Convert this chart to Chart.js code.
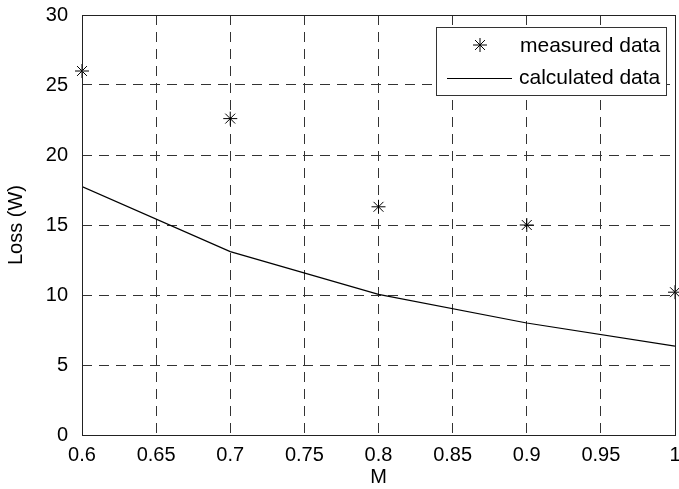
<!DOCTYPE html>
<html>
<head>
<meta charset="utf-8">
<script src="https://cdn.jsdelivr.net/npm/chart.js@4"></script>
<style>
  html, body { margin: 0; padding: 0; background: #fff; }
  #wrap { width: 679px; height: 489px; }
</style>
</head>
<body>
<div id="wrap"><canvas id="loss"></canvas></div>
<script>
// loss versus modulation index
const mValues = [0.6, 0.7, 0.8, 0.9, 1.0];
const measuredLoss = [26.0, 22.6, 16.3, 15.0, 10.2];
const calculatedLoss = [17.75, 13.1, 10.05, 8.0, 6.35];
const legendLabels = ['measured data', 'calculated data'];

const FONT = '"Liberation Sans", Arial, Helvetica, sans-serif';
const fontSize = 20;
const legendFontSize = 21;
const gridDash = [10, 7];

const toPoints = ys => mValues.map((x, i) => ({ x: x, y: ys[i] }));

// box around the plot area plus a boxed legend in the top right corner
const frameAndLegend = {
  id: 'frameAndLegend',
  afterDraw(chart) {
    const { ctx, chartArea: a } = chart;
    ctx.save();
    ctx.strokeStyle = '#222';
    ctx.lineWidth = 1;
    ctx.setLineDash([]);
    ctx.strokeRect(a.left + 0.5, a.top + 0.5, a.right - a.left, a.bottom - a.top);

    const w = 230, h = 68;
    const x0 = a.right - 9 - w, y0 = a.top + 12;
    ctx.fillStyle = '#fff';
    ctx.fillRect(x0, y0, w, h);
    ctx.strokeStyle = '#333';
    ctx.strokeRect(x0 + 0.5, y0 + 0.5, w, h);

    // marker sample
    const sx = x0 + 44, sy = y0 + 18;
    const r = 7;
    ctx.strokeStyle = '#000';
    ctx.beginPath();
    ctx.moveTo(sx - r, sy); ctx.lineTo(sx + r, sy);
    ctx.moveTo(sx, sy - r); ctx.lineTo(sx, sy + r);
    const d = r * 0.7071;
    ctx.moveTo(sx - d, sy - d); ctx.lineTo(sx + d, sy + d);
    ctx.moveTo(sx - d, sy + d); ctx.lineTo(sx + d, sy - d);
    ctx.stroke();

    // line sample
    const ly = y0 + 51.5;
    ctx.beginPath();
    ctx.moveTo(x0 + 11, ly); ctx.lineTo(x0 + 76, ly);
    ctx.stroke();

    ctx.fillStyle = '#000';
    ctx.font = legendFontSize + 'px ' + FONT;
    ctx.textBaseline = 'middle';
    ctx.textAlign = 'left';
    ctx.fillText(legendLabels[0], x0 + 84, sy + 1);
    ctx.fillText(legendLabels[1], x0 + 83, ly);
    ctx.restore();
  }
};

const gridStyle = {
  color: '#333',
  lineWidth: 1,
  drawTicks: false,
  borderDash: gridDash
};

new Chart(document.getElementById('loss'), {
  type: 'scatter',
  data: {
    datasets: [
      {
        label: legendLabels[0],
        data: toPoints(measuredLoss),
        pointStyle: 'star',
        pointRadius: 7,
        pointHoverRadius: 7,
        borderColor: '#000',
        backgroundColor: '#000',
        borderWidth: 1,
        showLine: false,
        clip: false
      },
      {
        type: 'line',
        label: legendLabels[1],
        data: toPoints(calculatedLoss),
        borderColor: '#000',
        borderWidth: 1.2,
        pointRadius: 0,
        tension: 0,
        fill: false
      }
    ]
  },
  options: {
    responsive: true,
    maintainAspectRatio: false,
    animation: false,
    layout: { autoPadding: false, padding: { left: 0, right: 4, top: 15, bottom: 0 } },
    plugins: {
      legend: { display: false },
      tooltip: { enabled: false }
    },
    scales: {
      x: {
        type: 'linear',
        min: 0.6,
        max: 1,
        border: { display: false, dash: gridDash },
        grid: gridStyle,
        ticks: {
          stepSize: 0.05,
          padding: 8,
          color: '#000',
          font: { family: FONT, size: fontSize },
          callback: v => String(parseFloat(v.toFixed(2)))
        },
        title: {
          display: true,
          text: 'M',
          color: '#000',
          font: { family: FONT, size: fontSize },
          padding: { top: 2, bottom: 0 }
        },
        afterFit(scale) {
          scale.height = 54;
          scale.paddingLeft = 0;
          scale.paddingRight = 0;
        }
      },
      y: {
        min: 0,
        max: 30,
        border: { display: false, dash: gridDash },
        grid: gridStyle,
        ticks: {
          stepSize: 5,
          padding: 14,
          color: '#000',
          font: { family: FONT, size: fontSize }
        },
        title: {
          display: true,
          text: 'Loss (W)',
          color: '#000',
          font: { family: FONT, size: fontSize },
          padding: { top: 4, bottom: 0 }
        },
        afterFit(scale) {
          scale.width = 82;
          scale.paddingTop = 0;
          scale.paddingBottom = 0;
        }
      }
    }
  },
  plugins: [frameAndLegend]
});
</script>
</body>
</html>
